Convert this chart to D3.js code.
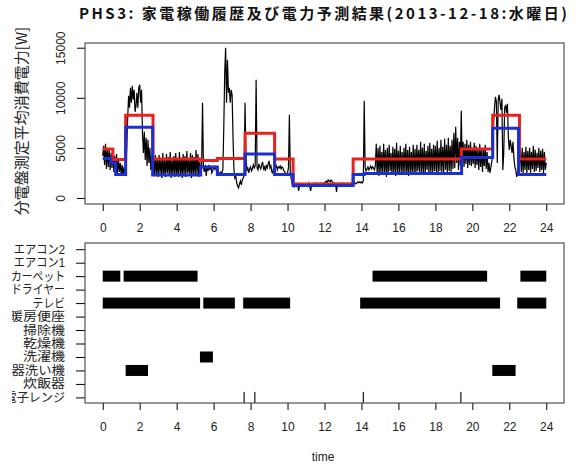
<!DOCTYPE html>
<html>
<head>
<meta charset="utf-8">
<script src="https://cdn.jsdelivr.net/npm/d3@7"></script>
<style>
  body { margin: 0; background: #fff; }
  text { font-family: "Liberation Sans", Arial, "Noto Sans CJK JP", sans-serif; fill: #222; }
  .jp { font-family: "Noto Sans CJK JP", "Liberation Sans", sans-serif; }
</style>
</head>
<body>
<div id="chart"></div>
<script>
// measured power, one reading every 0.05 h from 0:00 to 24:00 (W), one row per hour
var power = [
  4200, 5200, 3300, 5400, 2900, 5000, 3100, 4800, 2800, 4500, 3000, 4600, 2600, 4200, 2700, 4400, 2500, 3800, 2600, 3500,
  2300, 3300, 2200, 3100, 2200, 3000, 5000, 8000, 10200, 9000, 11000, 9500, 11200, 9800, 10800, 8600, 9200, 10500, 9000, 11000,
  11300, 9500, 10800, 6500, 4500, 6600, 3800, 6000, 3200, 5800, 3500, 5000, 2800, 4300, 2400, 4100, 2200, 4300, 2300, 4000,
  2100, 4300, 2400, 4000, 2000, 4500, 2300, 3800, 2100, 4400, 2500, 4100, 2200, 4600, 2000, 3900, 2400, 4200, 2100, 4500,
  2300, 4000, 2100, 4600, 2400, 3900, 2000, 4400, 2300, 4200, 2100, 4700, 2500, 3800, 2200, 4500, 2000, 4300, 2400, 4100,
  2200, 4800, 2300, 4400, 2100, 3600, 2700, 3200, 9500, 3000, 2600, 3300, 2200, 3100, 2700, 3300, 2800, 3200, 2500, 2700,
  3100, 2900, 3200, 2700, 3000, 2400, 2500, 2300, 2600, 2500, 2800, 7000, 12500, 15000, 9500, 13800, 10500, 11000, 9500, 10800,
  10300, 6000, 2800, 2000, 2200, 1500, 1200, 1000, 1400, 1700, 1300, 1800, 2000, 2200, 9500, 4000, 2800, 3000, 2500, 2900,
  3100, 2700, 2900, 3300, 3000, 3200, 11800, 3000, 2800, 3400, 3100, 2900, 3300, 3600, 2900, 3100, 2700, 3300, 3000, 3400,
  3700, 3000, 3200, 2600, 2500, 3100, 3300, 3000, 3200, 2800, 3100, 3000, 3200, 2900, 3100, 3000, 2700, 2600, 2400, 2300,
  2500, 3000, 8300, 2500, 1900, 1500, 1300, 1100, 1300, 1400, 1200, 1400, 700, 1300, 1400, 1300, 1400, 1200, 1300, 1400,
  1300, 1400, 1300, 1500, 1200, 700, 1300, 1400, 1300, 1500, 1400, 1300, 1500, 1400, 1300, 1400, 1500, 1300, 1400, 1500,
  1500, 1600, 1700, 1500, 1800, 1700, 1600, 1800, 1700, 1500, 1400, 1500, 1400, 600, 1400, 1500, 1300, 1400, 1500, 1400,
  1400, 1500, 1400, 1300, 1400, 1500, 1400, 1300, 1500, 1400, 1400, 1500, 1600, 1500, 1400, 1500, 1600, 1500, 1600, 1500,
  1600, 1500, 1700, 9700, 3000, 2700, 2900, 3100, 2800, 3000, 3200, 2900, 3100, 3000, 2800, 3200, 5400, 2400, 5000, 2200,
  5200, 2500, 4600, 2300, 5400, 2600, 4800, 2100, 5000, 2400, 5300, 2700, 4500, 2300, 5100, 2500, 4900, 2200, 5500, 2600,
  4700, 2400, 5200, 2600, 4600, 2300, 5000, 2500, 5400, 2400, 4800, 2200, 5100, 2600, 4600, 2400, 5300, 2500, 4900, 2300,
  5300, 2700, 4800, 2400, 5600, 2600, 5000, 2300, 5400, 2500, 4700, 2800, 5200, 2400, 5500, 2600, 4900, 2500, 5300, 2700,
  5200, 2600, 5700, 2400, 5000, 2700, 5800, 2500, 5100, 2600, 5900, 2800, 5300, 2400, 6000, 2700, 5200, 2600, 5800, 2900,
  6500, 3000, 7100, 3500, 6000, 2800, 5600, 3200, 8700, 3500, 5600, 3100, 5400, 3400, 5800, 3000, 5300, 3300, 5600, 3200,
  5000, 3400, 5500, 3000, 5200, 3300, 4800, 2800, 5400, 3100, 5000, 2600, 4800, 3200, 5300, 2900, 4600, 2600, 3500, 2500,
  3000, 3600, 4200, 7500, 9000, 10100, 9600, 3500, 9800, 10300, 9500, 8800, 9900, 2800, 4500, 9000, 9300, 8500, 9400, 6000,
  4800, 5800, 5200, 4500, 5600, 4000, 3100, 2800, 2100, 2600, 2400, 3500, 4800, 2600, 5000, 2500, 4600, 2800, 5100, 2500,
  4700, 2800, 5000, 2500, 4600, 2900, 5200, 2600, 4800, 2700, 4500, 3000, 5000, 2600, 4700, 2800, 4900, 2500, 4600, 2800,
  3500
];

// prediction 1 (red) and prediction 2 (blue), step changes
var redTimes = [0, 0.55, 1.24, 2.72, 5.3, 6.2, 7.7, 9.3, 10.3, 13.55, 19.4, 21.1, 22.55, 24];
var redValues = [4900, 3850, 8250, 3900, 3750, 3950, 6450, 3900, 1400, 3900, 4900, 8250, 3900, 3900];
var blueTimes = [0, 0.45, 0.7, 1.24, 2.7, 5.3, 6.2, 7.7, 9.3, 10.3, 13.55, 14.15, 19.42, 21.1, 22.5, 24];
var blueValues = [3950, 3500, 2350, 7050, 2300, 3100, 2350, 4400, 2350, 1250, 2350, 2450, 4050, 6950, 2350, 2350];

// appliance operation history
var appliances = ["エアコン2", "エアコン1", "カーペット", "ドライヤー", "テレビ", "暖房便座",
  "掃除機", "乾燥機", "洗濯機", "食器洗い機", "炊飯器", "電子レンジ"];
var onName = ["カーペット", "カーペット", "カーペット", "カーペット",
  "テレビ", "テレビ", "テレビ", "テレビ", "テレビ",
  "洗濯機", "食器洗い機", "食器洗い機",
  "電子レンジ", "電子レンジ", "電子レンジ", "電子レンジ"];
var onStart = [0, 1.13, 14.6, 22.6, 0, 5.44, 7.6, 13.93, 22.43, 5.26, 1.24, 21.08, 7.62, 8.2, 14.07, 19.35];
var onEnd = [0.95, 5.13, 20.8, 24, 5.27, 7.15, 10.14, 21.5, 24, 5.96, 2.45, 22.34, 7.68, 8.26, 14.13, 19.41];

var xTicks = d3.range(0, 25, 2);
var yTicks = [0, 5000, 10000, 15000];

// the original font is proportional: kana narrower than kanji
function labelWidth(s) {
  var w = 0;
  for (var c of s) {
    if (/[\u30A0-\u30FF]/.test(c)) w += 10.8;
    else if (/[\u3040-\u309F]/.test(c)) w += 11;
    else if (/[0-9]/.test(c)) w += 8;
    else w += 14;
  }
  return w;
}

var svg = d3.select("#chart").append("svg")
  .attr("width", 578)
  .attr("height", 464);

// title
svg.append("text")
  .attr("x", 323).attr("y", 19)
  .attr("text-anchor", "middle")
  .attr("font-size", "15px")
  .attr("font-weight", "bold")
  .attr("textLength", 488)
  .attr("lengthAdjust", "spacing")
  .attr("class", "jp")
  .style("fill", "#111")
  .text("PHS3: 家電稼働履歴及び電力予測結果(2013-12-18:水曜日)");

// ---------- top panel ----------
var x1 = d3.scaleLinear().domain([-0.96, 24.96]).range([85, 564]);
var y1 = d3.scaleLinear().domain([-600, 15470]).range([204, 43]);

svg.append("g")
  .attr("transform", "translate(0,204)")
  .call(d3.axisBottom(x1).tickValues(xTicks).tickSize(7).tickPadding(12))
  .call(g => g.select(".domain").remove())
  .call(g => g.selectAll("text").attr("font-size", "12px").attr("font-family", "Liberation Sans, Arial"));

var yAxis = svg.append("g")
  .attr("transform", "translate(85,0)")
  .call(d3.axisLeft(y1).tickValues(yTicks).tickSize(8).tickFormat(d3.format("d")))
  .call(g => g.select(".domain").remove());
yAxis.selectAll("text")
  .attr("transform", "rotate(-90)")
  .attr("x", 0).attr("y", -20).attr("dy", 0)
  .attr("text-anchor", "middle")
  .attr("font-size", "12px")
  .attr("font-family", "Liberation Sans, Arial");

svg.append("text")
  .attr("class", "jp")
  .attr("transform", "translate(27,121) rotate(-90)")
  .attr("text-anchor", "middle")
  .attr("font-size", "15px")
  .text("分電盤測定平均消費電力[W]");

var line = d3.line()
  .x((d, i) => x1(i / 20))
  .y(d => y1(d));

svg.append("path")
  .datum(power)
  .attr("d", line)
  .attr("fill", "none")
  .attr("stroke", "#000")
  .attr("stroke-width", 1.2);

var stepLine = d3.line()
  .x(d => x1(d[0]))
  .y(d => y1(d[1]))
  .curve(d3.curveStepAfter);

svg.append("path")
  .datum(d3.zip(redTimes, redValues))
  .attr("d", stepLine)
  .attr("fill", "none")
  .attr("stroke", "#e8231f")
  .attr("stroke-width", 3);

svg.append("path")
  .datum(d3.zip(blueTimes, blueValues))
  .attr("d", stepLine)
  .attr("fill", "none")
  .attr("stroke", "#1c2fd0")
  .attr("stroke-width", 3);

svg.append("rect")
  .attr("x", 85).attr("y", 43)
  .attr("width", 479).attr("height", 161)
  .attr("fill", "none")
  .attr("stroke", "#333");

// ---------- bottom panel ----------
var x2 = d3.scaleLinear().domain([-0.96, 24.96]).range([85, 564]);
var y2 = d3.scalePoint().domain(appliances).range([249.2, 397.4]);

svg.append("g")
  .attr("transform", "translate(0,403)")
  .call(d3.axisBottom(x2).tickValues(xTicks).tickSize(7).tickPadding(12))
  .call(g => g.select(".domain").remove())
  .call(g => g.selectAll("text").attr("font-size", "12px").attr("font-family", "Liberation Sans, Arial"));

// labels of the lower panel are cut at the left edge of the device
svg.append("clipPath").attr("id", "labelclip")
  .append("rect").attr("x", 12 - 85).attr("y", 0).attr("width", 566).attr("height", 464);

svg.append("g")
  .attr("transform", "translate(85,0)")
  .attr("clip-path", "url(#labelclip)")
  .call(d3.axisLeft(y2).tickSize(9).tickPadding(11))
  .call(g => g.select(".domain").remove())
  .call(g => g.selectAll("text")
    .attr("font-size", "12.5px")
    .attr("font-family", "Noto Sans CJK JP")
    .attr("textLength", d => labelWidth(d))
    .attr("lengthAdjust", "spacingAndGlyphs"));

svg.selectAll(".bar")
  .data(d3.range(onName.length))
  .enter()
  .append("rect")
  .attr("class", "bar")
  .attr("x", i => x2(onStart[i]))
  .attr("width", i => x2(onEnd[i]) - x2(onStart[i]))
  .attr("y", i => y2(onName[i]) - 5.5)
  .attr("height", 11)
  .attr("fill", "#000");

svg.append("rect")
  .attr("x", 85).attr("y", 243)
  .attr("width", 479).attr("height", 160)
  .attr("fill", "none")
  .attr("stroke", "#333");

svg.append("text")
  .attr("x", 323).attr("y", 461)
  .attr("text-anchor", "middle")
  .attr("font-size", "12px")
  .text("time");
</script>
</body>
</html>
